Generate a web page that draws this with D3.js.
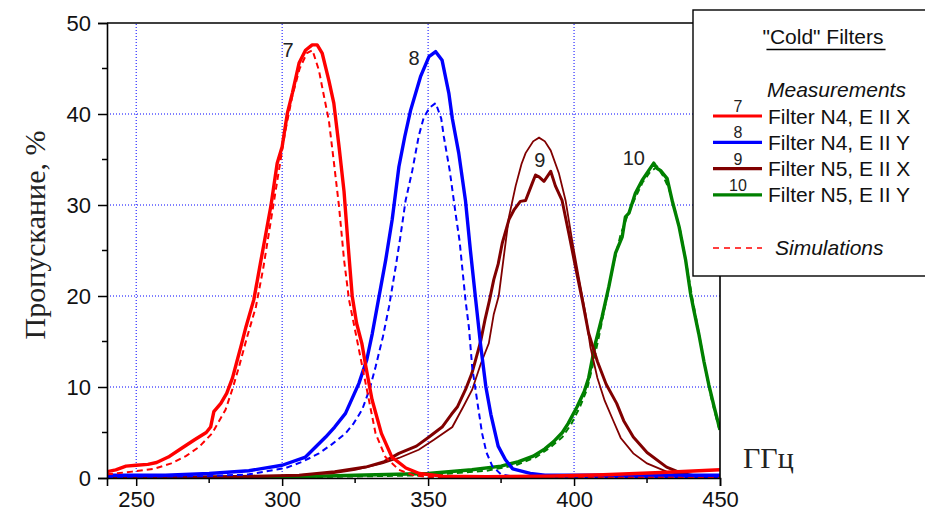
<!DOCTYPE html>
<html>
<head>
<meta charset="utf-8">
<script src="https://cdnjs.cloudflare.com/ajax/libs/d3/7.8.5/d3.min.js"></script>
<style>
  body { margin: 0; background: #fff; }
  svg { display: block; }
  text { font-family: Arial, "Liberation Sans", sans-serif; fill: #111; }
  .serif { font-family: "Times New Roman", "Liberation Serif", serif; }
</style>
</head>
<body>
<div id="chart"></div>
<script>

// measured / simulated transmission, [GHz, %]

var meas7 = [[240,0.7],[243,0.9],[246.5,1.3],[250,1.4],[254,1.5],[257,1.7],[261,2.3],[265.7,3.3],[270,4.2],
  [274,5.0],[275.5,5.6],[276.6,7.3],[279,8.2],[281,9.3],[283,11.0],[284.5,12.8],[286,14.6],[287.6,16.6],
  [290.3,19.6],[292.5,23.5],[294.5,27],[296.2,30],[298.3,34.6],[300,36.4],[301.8,40.1],[303.5,42.3],
  [305.8,45.6],[308,47.0],[310.3,47.6],[312,47.6],[313.7,46.7],[316,43.7],[317.7,41.2],[319.5,36.4],
  [321.2,31.5],[322.5,26],[324,20],[325.5,17],[327.3,14.8],[328.7,12.2],[330.8,8.6],[334,4.9],[337.6,2.3],
  [342.4,1.1],[347,0.5],[355,0.2],[370,0.15],[390,0.2],[410,0.35],[430,0.6],[450,0.9]];

var sim7 = [[240,0.4],[248.6,0.7],[256,1.0],[262,1.6],[267,2.4],[271.5,3.4],[276,4.9],[280.6,7.5],[283,9.8],
  [285.2,12.2],[288,15.5],[291,18.8],[293.5,23],[296,28],[298.5,33],[301,38],[303.5,42],[306,45],
  [308.5,46.7],[310.4,47],[312.6,44.8],[314.3,42],[316,39.3],[317.8,34.5],[319.5,29.8],[321.2,24],
  [322.9,19.6],[325.2,15.9],[328.6,10.4],[332,4.9],[335.4,2.3],[340,0.9],[345,0.3],[350,0.1],[450,0]];

var meas8 = [[240,0.3],[260,0.3],[275,0.5],[288.6,0.8],[300,1.4],[308,2.3],[314.9,4.5],[318,5.6],[321.7,7.1],
  [326.3,10.4],[329,13],[330.9,15.9],[333,19.6],[335.5,24],[337.7,28.4],[340,34.2],[342,37.5],[344,40.4],
  [347.4,44.1],[350.3,46.3],[352.6,46.85],[354.8,45.9],[357.1,42.3],[358.3,39.5],[360.5,35.7],[362.8,30.5],
  [364.5,25],[366.3,19.6],[368,14.6],[369.8,10],[371.5,7],[374,3.5],[376.5,2],[379,1],[385,0.5],[390,0.3],
  [450,0.3]];

var sim8 = [[240,0.1],[275,0.2],[288.6,0.4],[301.2,1.1],[307,1.8],[312.6,2.7],[317,3.7],[321.7,4.9],[324.5,6.0],
  [327.4,7.5],[330,9.8],[332,12.2],[334.5,15.5],[336.6,18.8],[338.9,23.2],[340.5,26.5],[342.3,30.5],
  [344.6,33.8],[346.8,37.6],[348.5,39.6],[350.5,40.7],[352.6,41.2],[354.5,39.5],[355.4,37.5],[357.4,33.8],
  [359.4,29.1],[360.8,26],[362.8,19.6],[364,16.5],[365.1,12.2],[366.8,8.5],[368.5,4.9],[370,2.8],[372,1.3],
  [375,0.4],[380,0.1],[450,0]];

var meas9 = [[240,0.05],[270,0.1],[290,0.2],[305.8,0.3],[318,0.7],[328.6,1.2],[335,1.8],[340,2.7],[346,3.5],
  [350.3,4.5],[354.8,5.6],[358,7.0],[360,7.8],[362.8,9.7],[365,11.5],[366.3,13],[368,15],[369.5,17.4],
  [371,19.5],[372.5,21.8],[374,23.5],[375.4,25.8],[377.7,28.4],[379.5,29.5],[381.6,30.4],[383.4,30.5],
  [385.7,32.4],[386.8,33.3],[388,33.1],[389.7,32.6],[392,33.7],[393.6,32.1],[395.9,30.5],[398.2,26.9],
  [400.5,23.2],[402.8,19.6],[405,15.9],[408,12.8],[411,10.3],[414.6,8.2],[417,6.3],[420.3,4.5],[425,2.8],
  [431.7,1.2],[437,0.5],[443,0.15],[450,0.05]];

var sim9 = [[240,0.02],[290,0.1],[317.2,0.5],[325,0.9],[334.3,1.6],[340,2.2],[346.8,3.1],[352,4.2],[358.3,5.6],
  [362,7.8],[365.1,9.7],[368,12.5],[370.8,14.8],[372.5,18],[374.2,20],[376,24.5],[377.7,28.7],[380,32.1],
  [382,34.5],[383.4,35.7],[386,37.0],[388,37.4],[390,37.0],[392,36.0],[394.8,33.5],[397.1,30.5],[399.3,26.2],
  [401.6,22.1],[403.9,18.1],[405.6,14.4],[408,11],[410.5,8.5],[413.3,6.4],[416,4.4],[420.3,2.7],[425,1.6],
  [431.7,0.7],[440,0.2],[450,0.05]];

var meas10 = [[240,0],[280,0.05],[300,0.1],[325,0.3],[350,0.5],[365,0.9],[375,1.3],[381,1.8],[386,2.4],
  [390,3.2],[393,4.0],[396,5.0],[398,6.0],[401,7.8],[403.5,9.5],[405,11],[407.3,14.8],[409.6,17.7],
  [411.9,21],[414.2,24.7],[416.5,26.5],[417.6,28.7],[418.8,29.1],[421,31.3],[423.3,32.7],[425.6,33.8],
  [427.3,34.6],[428.5,34.0],[429.6,33.8],[431.9,32.9],[433.6,30.5],[436,27.6],[438.2,24],[439.9,20.3],
  [441,18.5],[442.7,15.9],[444.5,12.8],[446.2,10.2],[448,7.8],[450,5.3]];

var sim10 = [[240,0],[300,0.05],[350,0.3],[370,0.8],[380,1.4],[387,2.3],[392,3.4],[396,4.5],[399,5.9],
  [402,7.8],[404.5,9.8],[406.5,12.5],[408.5,15.5],[411,19.5],[413.5,23.5],[416,26.8],[418.5,29.0],
  [421,30.8],[423.5,32.5],[426,33.6],[428.5,34.2],[430.5,33.2],[432.5,31.8],[434.5,29.5],[436.5,27],
  [438.5,23.5],[440.5,19.8],[443,15.5],[445,12],[447,8.8],[450,5.0]];

var curveIds = ["7", "8", "9", "10"];
var curveNames = ["Filter N4, E II X", "Filter N4, E II Y", "Filter N5, E II X", "Filter N5, E II Y"];
var curveColors = ["#ff0000", "#0000ff", "#800000", "#008000"];
// where the little curve numbers sit, [GHz, %]
var curveTags = [[302, 46.3], [345.2, 45.4], [388.3, 34.2], [420.5, 34.4]];

var xTicks = [250, 300, 350, 400, 450];
var yTicks = [0, 10, 20, 30, 40, 50];

var W = 925, H = 514;
var margin = { left: 107, right: 205, top: 23, bottom: 36 };

var svg = d3.select("#chart").append("svg")
    .attr("width", W)
    .attr("height", H);

var x = d3.scaleLinear().domain([240, 450]).range([margin.left, W - margin.right]);
var y = d3.scaleLinear().domain([0, 50]).range([H - margin.bottom, margin.top]);

svg.append("clipPath").attr("id", "plotclip")
    .append("rect")
    .attr("x", x(240)).attr("y", y(50))
    .attr("width", x(450) - x(240)).attr("height", y(0) - y(50));

// dotted grid
var grid = svg.append("g").attr("class", "grid");
grid.selectAll("line.gx")
    .data(xTicks.filter(function(d){ return d < 450; }))
    .enter().append("line")
    .attr("x1", x).attr("x2", x)
    .attr("y1", y(0)).attr("y2", y(50))
    .attr("stroke", "#0000ff").attr("stroke-width", 1)
    .attr("stroke-dasharray", "1,2");
grid.selectAll("line.gy")
    .data(yTicks.filter(function(d){ return d > 0 && d < 50; }))
    .enter().append("line")
    .attr("y1", y).attr("y2", y)
    .attr("x1", x(240)).attr("x2", x(450))
    .attr("stroke", "#0000ff").attr("stroke-width", 1)
    .attr("stroke-dasharray", "1,2");

var line = d3.line()
    .x(function(d){ return x(d[0]); })
    .y(function(d){ return y(d[1]); });

var curves = svg.append("g").attr("clip-path", "url(#plotclip)");

var sims = [sim7, sim8, sim9, sim10];
var meas = [meas7, meas8, meas9, meas10];

// draw back to front: 10, 9, 8, 7
for (var i = 3; i >= 0; i--) {
    var dashed = (i != 2);   // N5 E II X simulation is a thin solid line
    curves.append("path")
	.datum(sims[i])
	.attr("d", line)
	.attr("fill", "none")
	.attr("stroke", curveColors[i])
	.attr("stroke-width", dashed ? 2 : 1.8)
	.attr("stroke-dasharray", dashed ? "6,4" : null);
    curves.append("path")
	.datum(meas[i])
	.attr("d", line)
	.attr("fill", "none")
	.attr("stroke", curveColors[i])
	.attr("stroke-width", i == 2 ? 3 : 3.4)
	.attr("stroke-linejoin", "round");
}

svg.selectAll("text.tag")
    .data(curveTags)
    .enter().append("text")
    .attr("class", "tag")
    .attr("x", function(d){ return x(d[0]); })
    .attr("y", function(d){ return y(d[1]); })
    .attr("text-anchor", "middle")
    .style("font-size", "20px")
    .style("fill", "#222")
    .text(function(d, i){ return curveIds[i]; });

// axes
var xAxis = d3.axisBottom(x).tickValues(xTicks).tickSize(8).tickPadding(5);
var yAxis = d3.axisLeft(y).tickValues(yTicks).tickSize(9).tickPadding(7);

var gx = svg.append("g")
    .attr("transform", "translate(0," + y(0) + ")")
    .call(xAxis);
gx.selectAll("line.minor")
    .data([275, 325, 375, 425])
    .enter().append("line")
    .attr("x1", x).attr("x2", x)
    .attr("y1", 0).attr("y2", 5)
    .attr("stroke", "#000").attr("stroke-width", 1.5);

var gy = svg.append("g")
    .attr("transform", "translate(" + x(240) + ",0)")
    .call(yAxis);
gy.selectAll("line.minor")
    .data([5, 15, 25, 35, 45])
    .enter().append("line")
    .attr("y1", y).attr("y2", y)
    .attr("x1", 0).attr("x2", -5)
    .attr("stroke", "#000").attr("stroke-width", 1.5);

[gx, gy].forEach(function(g){
    g.select(".domain").attr("stroke-width", 1.6);
    g.selectAll(".tick line").attr("stroke-width", 1.5);
    g.selectAll(".tick text")
	.style("font-family", "Arial, 'Liberation Sans', sans-serif")
	.style("font-size", "22px")
	.style("fill", "#111");
});
gx.selectAll(".tick text").attr("dy", "0.72em");

// top and right frame
svg.append("path")
    .attr("d", "M" + x(240) + "," + y(50) + "H" + x(450) + "V" + y(0))
    .attr("fill", "none")
    .attr("stroke", "#000")
    .attr("stroke-width", 1.6);

// axis titles
svg.append("text")
    .attr("class", "serif")
    .attr("transform", "translate(45," + 235 + ") rotate(-90)")
    .attr("text-anchor", "middle")
    .style("font-size", "30px")
    .style("fill", "#222")
    .text("Пропускание, %");

svg.append("text")
    .attr("class", "serif")
    .attr("x", 743).attr("y", 468)
    .style("font-size", "30px")
    .style("fill", "#222")
    .text("ГГц");

// legend
var lg = svg.append("g").attr("transform", "translate(693,10)");
lg.append("rect")
    .attr("x", 0).attr("y", 0)
    .attr("width", 240).attr("height", 266)
    .attr("fill", "#fff").attr("stroke", "#000").attr("stroke-width", 1.4);

var title = lg.append("text")
    .attr("x", 130).attr("y", 34)
    .attr("text-anchor", "middle")
    .style("font-size", "21px")
    .text("\"Cold\" Filters");
var tb = title.node().getBBox();
lg.append("line")
    .attr("x1", tb.x + 4).attr("x2", tb.x + tb.width + 2)
    .attr("y1", 39.5).attr("y2", 39.5)
    .attr("stroke", "#000").attr("stroke-width", 1.3);

lg.append("text")
    .attr("x", 74).attr("y", 87)
    .style("font-size", "21px").style("font-style", "italic")
    .text("Measurements");

var rows = lg.selectAll("g.row")
    .data(curveIds)
    .enter().append("g")
    .attr("class", "row")
    .attr("transform", function(d, i){ return "translate(0," + (106 + i * 26.3) + ")"; });
rows.append("line")
    .attr("x1", 20).attr("x2", 69)
    .attr("y1", 0).attr("y2", 0)
    .attr("stroke", function(d, i){ return curveColors[i]; })
    .attr("stroke-width", 3.2);
rows.append("text")
    .attr("x", 45).attr("y", -4)
    .attr("text-anchor", "middle")
    .style("font-size", "16px")
    .style("fill", "#222")
    .text(function(d){ return d; });
rows.append("text")
    .attr("x", 75).attr("y", 7.5)
    .style("font-size", "21px")
    .text(function(d, i){ return curveNames[i]; });

lg.append("line")
    .attr("x1", 20).attr("x2", 69)
    .attr("y1", 238).attr("y2", 238)
    .attr("stroke", "#ff0000").attr("stroke-width", 1.6)
    .attr("stroke-dasharray", "6,5");
lg.append("text")
    .attr("x", 82).attr("y", 245)
    .style("font-size", "21px").style("font-style", "italic")
    .text("Simulations");

</script>
</body>
</html>
